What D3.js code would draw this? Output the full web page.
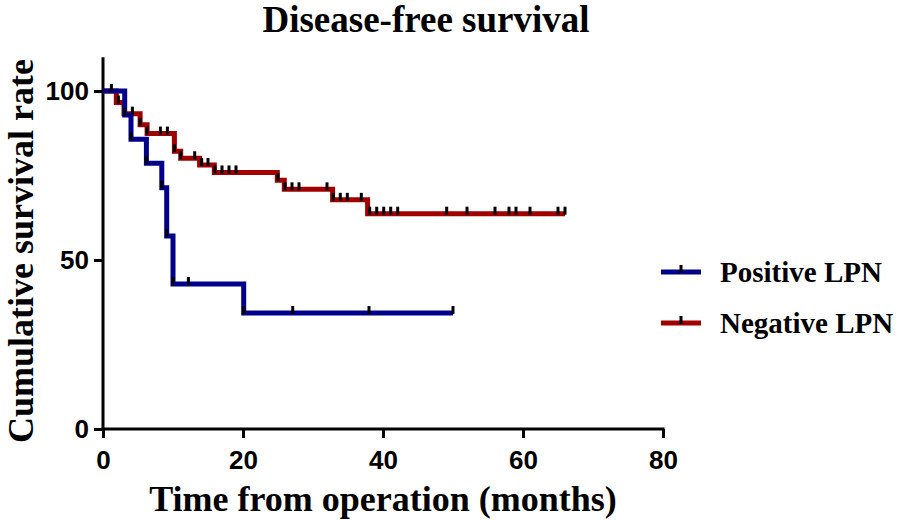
<!DOCTYPE html>
<html>
<head>
<meta charset="utf-8">
<script src="https://cdn.jsdelivr.net/npm/d3@7"></script>
<style>
  html, body { margin: 0; padding: 0; background: #fff; }
  svg { display: block; }
</style>
</head>
<body>
<svg id="chart" width="897" height="522"></svg>
<script>
// ---- Data ----
const xTicks = [0, 20, 40, 60, 80];
const yTicks = [0, 50, 100];

// Positive LPN: step times (months) and survival (%) after each step
const posTimes = [0, 3.1, 4.0, 6.2, 8.4, 9.1, 10.0, 20.1];
const posSurv  = [100, 92.9, 85.7, 78.6, 71.4, 57.1, 42.9, 34.3];
const posEnd = 50;
const posCensor = [1.2, 3.1, 4.0, 6.2, 8.4, 9.1, 10.0, 12.2, 20.1, 27.1, 38.0, 50.0];

// Negative LPN
const negTimes = [0, 1.9, 3.0, 5.3, 6.3, 10.2, 11.1, 13.8, 15.9, 24.9, 25.9, 32.8, 37.8];
const negSurv  = [100, 96.6, 93.3, 90.0, 87.4, 82.2, 80.1, 78.1, 75.9, 73.6, 70.9, 67.8, 63.7];
const negEnd = 66;
const negCensor = [2.2, 4.2, 5.3, 6.3, 8.2, 9.2, 10.2, 11.1, 13.1, 14.1, 15.0, 16.0, 17.0, 18.0, 19.0,
                   25.0, 26.0, 27.0, 28.0, 32.0, 32.9, 33.9, 34.9, 36.9, 38.1, 39.1, 40.1, 41.1, 42.1,
                   49.1, 52.0, 56.0, 58.0, 59.0, 61.0, 65.0, 66.0];

const seriesNames = ["Positive LPN", "Negative LPN"];
const seriesColors = ["#00008b", "#a00000"];

// ---- Chart ----
const svg = d3.select("#chart");
const x = d3.scaleLinear().domain([0, 80]).range([103, 663]);
const y = d3.scaleLinear().domain([0, 100]).range([429, 91]);
const yTop = 110;

const serif = "'Liberation Serif', 'Times New Roman', serif";
const sans = "'Liberation Sans', Arial, sans-serif";

function build(times, surv, end) {
  const pts = times.map((t, i) => [t, surv[i]]);
  pts.push([end, surv[surv.length - 1]]);
  return pts;
}
function survAt(times, surv, t) {
  let s = surv[0];
  for (let i = 0; i < times.length; i++) if (t >= times[i] - 1e-9) s = surv[i];
  return s;
}

const line = d3.line().x(d => x(d[0])).y(d => y(d[1])).curve(d3.curveStepAfter);

const series = [
  {times: negTimes, surv: negSurv, end: negEnd, censor: negCensor, color: seriesColors[1]},
  {times: posTimes, surv: posSurv, end: posEnd, censor: posCensor, color: seriesColors[0]}
];

// Axes
const gx = svg.append("g").attr("transform", `translate(0,${y(0)})`)
  .call(d3.axisBottom(x).tickValues(xTicks).tickSize(9).tickPadding(13).tickSizeOuter(0));
const gy = svg.append("g").attr("transform", `translate(${x(0)},0)`)
  .call(d3.axisLeft(d3.scaleLinear().domain([0, yTop]).range([y(0), y(yTop)]))
    .tickValues(yTicks).tickSize(9).tickPadding(5).tickSizeOuter(0));
[gx, gy].forEach(g => {
  g.select(".domain").attr("stroke", "#000").attr("stroke-width", 3);
  g.selectAll(".tick line").attr("stroke", "#000").attr("stroke-width", 3);
  g.selectAll(".tick text").attr("fill", "#000")
    .style("font-family", sans).style("font-weight", "bold").style("font-size", "26px");
});
gx.select(".domain").attr("d", `M${x(0) - 1.5},0H${x(80) + 1.5}`);
gy.select(".domain").attr("d", `M0,${y(0) + 1.5}V${y(yTop)}`);

// Curves
series.forEach(s => {
  svg.append("path")
    .attr("d", line(build(s.times, s.surv, s.end)))
    .attr("fill", "none").attr("stroke", s.color).attr("stroke-width", 5)
    .attr("stroke-linejoin", "miter").attr("stroke-linecap", "butt");
});
// Censor ticks
series.forEach(s => {
  svg.append("g").selectAll("line").data(s.censor).join("line")
    .attr("x1", d => x(d)).attr("x2", d => x(d))
    .attr("y1", d => y(survAt(s.times, s.surv, d)) + 1)
    .attr("y2", d => y(survAt(s.times, s.surv, d)) - 7)
    .attr("stroke", "#000").attr("stroke-width", 3);
});

// Titles
svg.append("text").attr("x", 426).attr("y", 32).attr("text-anchor", "middle")
  .style("font-family", serif).style("font-weight", "bold").style("font-size", "37px")
  .text("Disease-free survival");
svg.append("text").attr("x", 383).attr("y", 511).attr("text-anchor", "middle")
  .style("font-family", serif).style("font-weight", "bold").style("font-size", "36px")
  .text("Time from operation (months)");
svg.append("text").attr("transform", "translate(33,251) rotate(-90)").attr("text-anchor", "middle")
  .style("font-family", serif).style("font-weight", "bold").style("font-size", "36px")
  .text("Cumulative survival rate");

// Legend
const legY = [272, 323];
seriesNames.forEach((name, i) => {
  const g = svg.append("g");
  g.append("line").attr("x1", 661).attr("x2", 701).attr("y1", legY[i]).attr("y2", legY[i])
    .attr("stroke", seriesColors[i]).attr("stroke-width", 5);
  g.append("line").attr("x1", 681).attr("x2", 681).attr("y1", legY[i] + 1).attr("y2", legY[i] - 7)
    .attr("stroke", "#000").attr("stroke-width", 3);
  g.append("text").attr("x", 720).attr("y", legY[i]).attr("dy", "0.35em")
    .style("font-family", serif).style("font-weight", "bold").style("font-size", "29px")
    .text(name);
});
</script>
</body>
</html>
